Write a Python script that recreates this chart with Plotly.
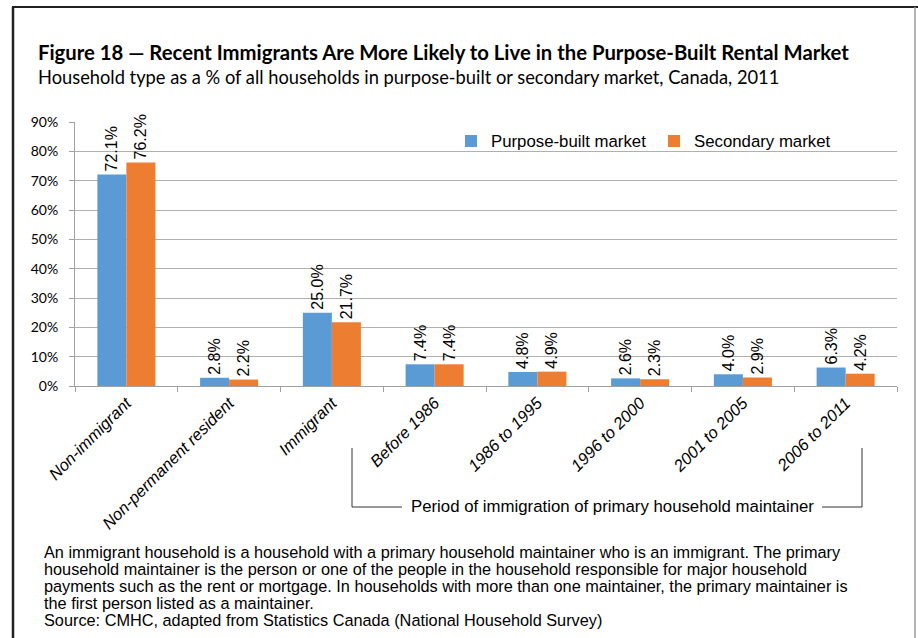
import plotly.graph_objects as go

categories = ["Non-immigrant", "Non-permanent resident", "Immigrant", "Before 1986",
              "1986 to 1995", "1996 to 2000", "2001 to 2005", "2006 to 2011"]
purpose_built = [72.1, 2.8, 25.0, 7.4, 4.8, 2.6, 4.0, 6.3]
secondary = [76.2, 2.2, 21.7, 7.4, 4.9, 2.3, 2.9, 4.2]
series_names = ["Purpose-built market", "Secondary market"]
y_ticks = [0, 10, 20, 30, 40, 50, 60, 70, 80, 90]
y_tick_labels = [f"{v}%" for v in y_ticks]

title = "Figure 18 \u2014 Recent Immigrants Are More Likely to Live in the Purpose-Built Rental Market"
subtitle = "Household type as a % of all households in purpose-built or secondary market, Canada, 2011"
bracket_label = "Period of immigration of primary household maintainer"
footnote = [
    "An immigrant household is a household with a primary household maintainer who is an immigrant. The primary",
    "household maintainer is the person or one of the people in the household responsible for major household",
    "payments such as the rent or mortgage. In households with more than one maintainer, the primary maintainer is",
    "the first person listed as a maintainer.",
    "Source: CMHC, adapted from Statistics Canada (National Household Survey)",
]

W, H = 918, 638
L, R, T, B = 75, 897, 122, 386  # plot area in pixels


def px(x):
    return (x - L) / (R - L)


def py(y):
    return (B - y) / (B - T)


ARIAL = "Liberation Sans, Arial, sans-serif"
CAL = "Lato, Calibri, sans-serif"
BLUE = "#5B9BD5"
ORANGE = "#ED7D31"

fig = go.Figure()
for name, vals, col in [(series_names[0], purpose_built, BLUE), (series_names[1], secondary, ORANGE)]:
    fig.add_trace(go.Bar(
        x=[f"<i>{c}</i>" for c in categories], y=vals, name=name,
        marker=dict(color=col, line=dict(width=0)),
        text=[f"{v:.1f}%" for v in vals], textposition="outside", textangle=-90,
        textfont=dict(family=ARIAL, size=16, color="#000"),
        constraintext="none", cliponaxis=False,
    ))

fig.update_layout(
    width=W, height=H,
    margin=dict(l=L, r=W - R, t=T, b=H - B, pad=0),
    paper_bgcolor="white", plot_bgcolor="white",
    barmode="group", bargap=0.435, bargroupgap=0,
    showlegend=True,
    legend=dict(orientation="h", x=px(451), y=py(141), xanchor="left", yanchor="middle",
                font=dict(family=ARIAL, size=16.8, color="#000"), bgcolor="rgba(0,0,0,0)",
                entrywidth=158, entrywidthmode="pixels", itemwidth=30),
    xaxis=dict(type="category", tickson="boundaries", ticks="outside", ticklen=5,
               tickcolor="#a0a0a0", showline=True, linecolor="#a0a0a0", linewidth=1,
               tickangle=-45, tickfont=dict(family=ARIAL, size=16.5, color="#000"),
               showgrid=False),
    yaxis=dict(range=[0, 90], tickvals=y_ticks, ticktext=y_tick_labels, ticks="outside", ticklen=5,
               tickcolor="#a0a0a0", showline=True, linecolor="#a0a0a0", linewidth=1,
               gridcolor="#b0b0b0", gridwidth=1, zeroline=False, ticklabelstandoff=8,
               tickfont=dict(family=CAL, size=14, color="#000")),
)

ann = []
ann.append(dict(text=f"<b>{title}</b>", x=px(36), y=py(52), xref="paper", yref="paper",
                xanchor="left", yanchor="middle", showarrow=False,
                font=dict(family=CAL, size=20.3, color="#000")))
ann.append(dict(text=subtitle, x=px(36), y=py(77), xref="paper", yref="paper",
                xanchor="left", yanchor="middle", showarrow=False,
                font=dict(family=CAL, size=18.3, color="#000")))
ann.append(dict(text=bracket_label, x=px(612), y=py(506), xref="paper", yref="paper",
                xanchor="center", yanchor="middle", showarrow=False,
                font=dict(family=ARIAL, size=16.8, color="#000")))
for i, line in enumerate(footnote):
    ann.append(dict(text=line, x=px(42), y=py(552 + 17 * i), xref="paper", yref="paper",
                    xanchor="left", yanchor="middle", showarrow=False,
                    font=dict(family=ARIAL, size=16.3, color="#000")))
fig.update_layout(annotations=ann)

shapes = []
ln = dict(color="#333", width=1)
for (x0, y0, x1, y1) in [(352, 448, 352, 507), (352, 507, 402, 507),
                         (822, 507, 862, 507), (862, 448, 862, 507)]:
    shapes.append(dict(type="line", xref="paper", yref="paper",
                       x0=px(x0), y0=py(y0), x1=px(x1), y1=py(y1), line=ln))
# outer frame
shapes.append(dict(type="line", xref="paper", yref="paper", x0=px(13), y0=py(7), x1=px(13), y1=py(H),
                   line=dict(color="#222", width=2.5)))
shapes.append(dict(type="line", xref="paper", yref="paper", x0=px(12), y0=py(7), x1=px(W), y1=py(7),
                   line=dict(color="#222", width=2)))
shapes.append(dict(type="line", xref="paper", yref="paper", x0=px(915), y0=py(7), x1=px(915), y1=py(H),
                   line=dict(color="#999", width=1.5)))
fig.update_layout(shapes=shapes)

fig.write_html("out.html", config={"displayModeBar": False},
               post_script="document.body.style.margin='0';document.body.style.overflow='hidden';")
